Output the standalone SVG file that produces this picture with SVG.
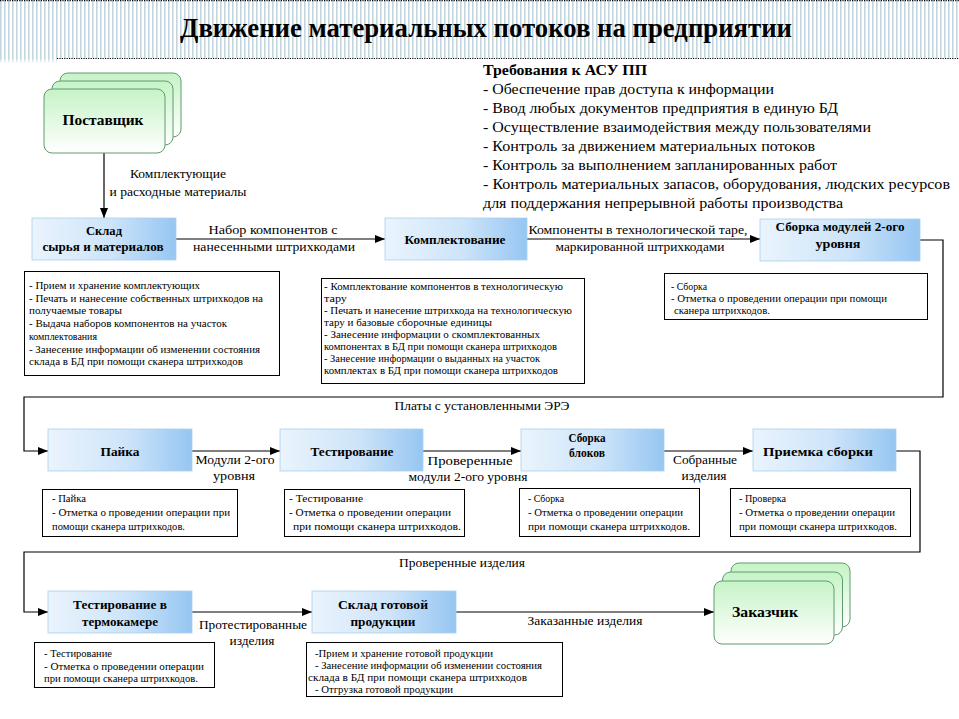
<svg xmlns="http://www.w3.org/2000/svg" width="959" height="719" viewBox="0 0 959 719" font-family="Liberation Serif, DejaVu Serif, serif">
<defs>
  <pattern id="stripes" width="4" height="10" patternUnits="userSpaceOnUse">
    <rect x="0" y="0" width="1.6" height="10" fill="#c3d5de"/>
  </pattern>
  <linearGradient id="blue" x1="0" y1="0" x2="1" y2="0">
    <stop offset="0" stop-color="#eaf4fd"/>
    <stop offset="0.55" stop-color="#cde4f9"/>
    <stop offset="1" stop-color="#96c6f2"/>
  </linearGradient>
  <linearGradient id="green" x1="0" y1="0" x2="0" y2="1">
    <stop offset="0" stop-color="#c6f3c6"/>
    <stop offset="1" stop-color="#ffffff"/>
  </linearGradient>
  <linearGradient id="fade" x1="0" y1="0" x2="0" y2="1">
    <stop offset="0" stop-color="#fff" stop-opacity="0"/>
    <stop offset="1" stop-color="#fff" stop-opacity="1"/>
  </linearGradient>
  <marker id="arr" markerWidth="10" markerHeight="8" refX="10" refY="4" orient="auto" markerUnits="userSpaceOnUse">
    <path d="M0,0 L10,4 L0,8 z" fill="#000"/>
  </marker>
</defs>
<style>
  .title { font-size: 27px; font-weight: bold; text-anchor: middle; }
  .req { font-size: 15px; }
  .reqh { font-size: 15px; font-weight: bold; }
  .nt { font-size: 13px; font-weight: bold; text-anchor: middle; }
  .big { font-size: 15px; font-weight: bold; }
  .lb { font-size: 12.5px; text-anchor: middle; }
  .ds { font-size: 10.5px; }
  .box { fill: url(#blue); stroke: #a9cfee; stroke-width: 0.8; }
  .desc { fill: #fff; stroke: #000; stroke-width: 1; }
  .stack { fill: url(#green); stroke: #5e9c6e; stroke-width: 1; }
  .conn { fill: none; stroke: #000; stroke-width: 1.2; marker-end: url(#arr); }
  .dot { stroke: #000; stroke-width: 1.2; stroke-dasharray: 1.2 1.2; fill: none; }
</style>

<rect x="0" y="0" width="959" height="719" fill="#fff"/>

<g id="header">
  <rect x="0" y="0" width="959" height="58" fill="url(#stripes)"/>
  <rect x="0" y="58" width="57" height="5" fill="url(#stripes)"/>
  <rect x="0" y="58" width="57" height="6" fill="url(#fade)"/>
  <line class="dot" x1="0" y1="0.6" x2="959" y2="0.6"/>
  <line class="dot" x1="57" y1="58.5" x2="959" y2="58.5"/>
  <text class="title" x="486" y="37" textLength="612" lengthAdjust="spacingAndGlyphs">Движение материальных потоков на предприятии</text>
</g>

<g id="requirements">
  <text class="reqh" x="483" y="75" textLength="164" lengthAdjust="spacingAndGlyphs">Требования к АСУ ПП</text>
  <text class="req" x="483" y="94" textLength="291" lengthAdjust="spacingAndGlyphs">- Обеспечение прав доступа к информации</text>
  <text class="req" x="483" y="113" textLength="355" lengthAdjust="spacingAndGlyphs">- Ввод любых документов предприятия в единую БД</text>
  <text class="req" x="483" y="132" textLength="388" lengthAdjust="spacingAndGlyphs">- Осуществление взаимодействия между пользователями</text>
  <text class="req" x="483" y="151" textLength="332" lengthAdjust="spacingAndGlyphs">- Контроль за движением материальных потоков</text>
  <text class="req" x="483" y="170" textLength="354" lengthAdjust="spacingAndGlyphs">- Контроль за выполнением запланированных работ</text>
  <text class="req" x="483" y="189" textLength="467" lengthAdjust="spacingAndGlyphs">- Контроль материальных запасов, оборудования, людских ресурсов</text>
  <text class="req" x="483" y="208" textLength="360" lengthAdjust="spacingAndGlyphs">для поддержания непрерывной работы производства</text>
</g>

<g id="connectors">
  <path class="conn" d="M104,153 V218"/>
  <path class="conn" d="M176,239 H385"/>
  <path class="conn" d="M527,239 H760"/>
  <path class="conn" d="M920,240 H943 V397 H24 V451 H48"/>
  <path class="conn" d="M192,451 H280"/>
  <path class="conn" d="M423,451 H521"/>
  <path class="conn" d="M664,451 H753"/>
  <path class="conn" d="M896,451 H920 V552 H24 V612 H48"/>
  <path class="conn" d="M192,612 H312"/>
  <path class="conn" d="M456,612 H714"/>
  <text class="lb" x="178" y="178" textLength="96" lengthAdjust="spacingAndGlyphs">Комплектующие</text>
  <text class="lb" x="178" y="196" textLength="137" lengthAdjust="spacingAndGlyphs">и расходные материалы</text>
  <text class="lb" x="273" y="234" textLength="129" lengthAdjust="spacingAndGlyphs">Набор компонентов с</text>
  <text class="lb" x="274" y="251" textLength="162" lengthAdjust="spacingAndGlyphs">нанесенными штрихкодами</text>
  <text class="lb" x="638" y="234" textLength="219" lengthAdjust="spacingAndGlyphs">Компоненты в технологической таре,</text>
  <text class="lb" x="640" y="251" textLength="169" lengthAdjust="spacingAndGlyphs">маркированной штрихкодами</text>
  <text class="lb" x="482" y="410" textLength="175" lengthAdjust="spacingAndGlyphs">Платы с установленными ЭРЭ</text>
  <text class="lb" x="235" y="464" textLength="79" lengthAdjust="spacingAndGlyphs">Модули 2-ого</text>
  <text class="lb" x="234" y="480" textLength="42" lengthAdjust="spacingAndGlyphs">уровня</text>
  <text class="lb" x="470" y="465" textLength="85" lengthAdjust="spacingAndGlyphs">Проверенные</text>
  <text class="lb" x="468" y="481" textLength="119" lengthAdjust="spacingAndGlyphs">модули 2-ого уровня</text>
  <text class="lb" x="705" y="464" textLength="64" lengthAdjust="spacingAndGlyphs">Собранные</text>
  <text class="lb" x="704" y="480" textLength="45" lengthAdjust="spacingAndGlyphs">изделия</text>
  <text class="lb" x="462" y="567" textLength="126" lengthAdjust="spacingAndGlyphs">Проверенные изделия</text>
  <text class="lb" x="253" y="629" textLength="108" lengthAdjust="spacingAndGlyphs">Протестированные</text>
  <text class="lb" x="252" y="645" textLength="45" lengthAdjust="spacingAndGlyphs">изделия</text>
  <text class="lb" x="585" y="625" textLength="115" lengthAdjust="spacingAndGlyphs">Заказанные изделия</text>
</g>

<g id="supplier">
  <rect class="stack" x="60" y="73" width="121" height="64" rx="8"/>
  <rect class="stack" x="52" y="81" width="121" height="64" rx="8"/>
  <rect class="stack" x="44" y="89" width="121" height="64" rx="8"/>
  <text class="nt" x="103" y="125" style="font-size:14px" textLength="81" lengthAdjust="spacingAndGlyphs">Поставщик</text>
</g>

<g id="sklad">
  <rect class="box" x="32" y="218" width="144" height="42"/>
  <text class="nt" x="104" y="235" textLength="36" lengthAdjust="spacingAndGlyphs">Склад</text>
  <text class="nt" x="103" y="251" textLength="121" lengthAdjust="spacingAndGlyphs">сырья и материалов</text>
</g>
<g id="sklad-desc">
  <rect class="desc" x="24.5" y="271.5" width="255" height="104"/>
  <text class="ds" x="29" y="289" textLength="171" lengthAdjust="spacingAndGlyphs">- Прием и хранение комплектующих</text>
  <text class="ds" x="29" y="301.7" textLength="234" lengthAdjust="spacingAndGlyphs">- Печать и нанесение собственных штрихкодов на</text>
  <text class="ds" x="29" y="314.4" textLength="93" lengthAdjust="spacingAndGlyphs">получаемые товары</text>
  <text class="ds" x="29" y="327.1" textLength="198" lengthAdjust="spacingAndGlyphs">- Выдача наборов компонентов на участок</text>
  <text class="ds" x="29" y="339.8" textLength="68" lengthAdjust="spacingAndGlyphs">комплектования</text>
  <text class="ds" x="29" y="352.5" textLength="231" lengthAdjust="spacingAndGlyphs">- Занесение информации об изменении состояния</text>
  <text class="ds" x="29" y="365.2" textLength="214" lengthAdjust="spacingAndGlyphs">склада в БД при помощи сканера штрихкодов</text>
</g>

<g id="komplekt">
  <rect class="box" x="385" y="218" width="142" height="42"/>
  <text class="nt" x="455" y="244" textLength="101" lengthAdjust="spacingAndGlyphs">Комплектование</text>
</g>
<g id="komplekt-desc">
  <rect class="desc" x="321.5" y="278.5" width="263" height="105"/>
  <text class="ds" x="324" y="290" textLength="239" lengthAdjust="spacingAndGlyphs">- Комплектование компонентов в технологическую</text>
  <text class="ds" x="324" y="302" textLength="23" lengthAdjust="spacingAndGlyphs">тару</text>
  <text class="ds" x="324" y="314" textLength="248" lengthAdjust="spacingAndGlyphs">- Печать и нанесение штрихкода на технологическую</text>
  <text class="ds" x="324" y="326" textLength="168" lengthAdjust="spacingAndGlyphs">тару и базовые сборочные единицы</text>
  <text class="ds" x="324" y="338" textLength="216" lengthAdjust="spacingAndGlyphs">- Занесение информации о скомплектованных</text>
  <text class="ds" x="324" y="350" textLength="233" lengthAdjust="spacingAndGlyphs">компонентах в БД при помощи сканера штрихкодов</text>
  <text class="ds" x="324" y="362" textLength="216" lengthAdjust="spacingAndGlyphs">- Занесение информации о выданных на участок</text>
  <text class="ds" x="324" y="374" textLength="234" lengthAdjust="spacingAndGlyphs">комплектах в БД при помощи сканера штрихкодов</text>
</g>

<g id="sborka-mod">
  <rect class="box" x="760" y="219" width="160" height="42"/>
  <text class="nt" x="840" y="231" textLength="129" lengthAdjust="spacingAndGlyphs">Сборка модулей 2-ого</text>
  <text class="nt" x="838" y="248" textLength="45" lengthAdjust="spacingAndGlyphs">уровня</text>
</g>
<g id="sborka-mod-desc">
  <rect class="desc" x="664.5" y="273.5" width="263" height="46"/>
  <text class="ds" x="671" y="290" textLength="36" lengthAdjust="spacingAndGlyphs">- Сборка</text>
  <text class="ds" x="671" y="302" textLength="216" lengthAdjust="spacingAndGlyphs">- Отметка  о проведении операции при помощи</text>
  <text class="ds" x="674" y="314" textLength="96" lengthAdjust="spacingAndGlyphs">сканера штрихкодов.</text>
</g>

<g id="pajka">
  <rect class="box" x="48" y="429" width="144" height="42"/>
  <text class="nt" x="120" y="456" textLength="39" lengthAdjust="spacingAndGlyphs">Пайка</text>
</g>
<g id="pajka-desc">
  <rect class="desc" x="42.5" y="489.5" width="195" height="47"/>
  <text class="ds" x="52" y="502" textLength="34" lengthAdjust="spacingAndGlyphs">- Пайка</text>
  <text class="ds" x="52" y="516" textLength="178" lengthAdjust="spacingAndGlyphs">- Отметка  о проведении операции при</text>
  <text class="ds" x="52" y="530" textLength="133" lengthAdjust="spacingAndGlyphs">помощи сканера штрихкодов.</text>
</g>

<g id="test">
  <rect class="box" x="280" y="429" width="143" height="42"/>
  <text class="nt" x="352" y="456" textLength="83" lengthAdjust="spacingAndGlyphs">Тестирование</text>
</g>
<g id="test-desc">
  <rect class="desc" x="284.5" y="489.5" width="180" height="47"/>
  <text class="ds" x="289" y="502" textLength="74" lengthAdjust="spacingAndGlyphs">- Тестирование</text>
  <text class="ds" x="289" y="516" textLength="162" lengthAdjust="spacingAndGlyphs">- Отметка  о проведении операции</text>
  <text class="ds" x="293" y="530" textLength="168" lengthAdjust="spacingAndGlyphs">при помощи сканера штрихкодов.</text>
</g>

<g id="sborka-blok">
  <rect class="box" x="521" y="429" width="143" height="42"/>
  <text class="nt" x="587" y="442" textLength="37" lengthAdjust="spacingAndGlyphs">Сборка</text>
  <text class="nt" x="587" y="457" textLength="36" lengthAdjust="spacingAndGlyphs">блоков</text>
</g>
<g id="sborka-blok-desc">
  <rect class="desc" x="519.5" y="488.5" width="180" height="48"/>
  <text class="ds" x="528" y="502" textLength="36" lengthAdjust="spacingAndGlyphs">- Сборка</text>
  <text class="ds" x="528" y="516" textLength="155" lengthAdjust="spacingAndGlyphs">- Отметка  о проведении операции</text>
  <text class="ds" x="528" y="530" textLength="162" lengthAdjust="spacingAndGlyphs">при помощи сканера штрихкодов.</text>
</g>

<g id="priemka">
  <rect class="box" x="753" y="429" width="143" height="42"/>
  <text class="nt" x="818" y="456" textLength="110" lengthAdjust="spacingAndGlyphs">Приемка сборки</text>
</g>
<g id="priemka-desc">
  <rect class="desc" x="730.5" y="488.5" width="180" height="48"/>
  <text class="ds" x="739" y="502" textLength="47" lengthAdjust="spacingAndGlyphs">- Проверка</text>
  <text class="ds" x="739" y="516" textLength="156" lengthAdjust="spacingAndGlyphs">- Отметка  о проведении операции</text>
  <text class="ds" x="739" y="530" textLength="158" lengthAdjust="spacingAndGlyphs">при помощи сканера штрихкодов.</text>
</g>

<g id="termo">
  <rect class="box" x="48" y="591" width="144" height="42"/>
  <text class="nt" x="120" y="609" textLength="94" lengthAdjust="spacingAndGlyphs">Тестирование в</text>
  <text class="nt" x="120" y="626" textLength="76" lengthAdjust="spacingAndGlyphs">термокамере</text>
</g>
<g id="termo-desc">
  <rect class="desc" x="34.5" y="642.5" width="180" height="45"/>
  <text class="ds" x="44" y="657" textLength="68" lengthAdjust="spacingAndGlyphs">- Тестирование</text>
  <text class="ds" x="44" y="670" textLength="160" lengthAdjust="spacingAndGlyphs">- Отметка  о проведении операции</text>
  <text class="ds" x="44" y="682" textLength="154" lengthAdjust="spacingAndGlyphs">при помощи сканера штрихкодов.</text>
</g>

<g id="sklad-gp">
  <rect class="box" x="312" y="591" width="144" height="42"/>
  <text class="nt" x="383" y="609" textLength="90" lengthAdjust="spacingAndGlyphs">Склад готовой</text>
  <text class="nt" x="383" y="626" textLength="65" lengthAdjust="spacingAndGlyphs">продукции</text>
</g>
<g id="sklad-gp-desc">
  <rect class="desc" x="306.5" y="642.5" width="256" height="54"/>
  <text class="ds" x="315" y="657" textLength="178" lengthAdjust="spacingAndGlyphs">-Прием и хранение готовой продукции</text>
  <text class="ds" x="315" y="669" textLength="227" lengthAdjust="spacingAndGlyphs">- Занесение информации об изменении состояния</text>
  <text class="ds" x="308" y="681" textLength="219" lengthAdjust="spacingAndGlyphs">склада в БД при помощи сканера штрихкодов</text>
  <text class="ds" x="315" y="693" textLength="138" lengthAdjust="spacingAndGlyphs">- Отгрузка готовой продукции</text>
</g>

<g id="customer">
  <rect class="stack" x="731" y="563" width="119" height="64" rx="8"/>
  <rect class="stack" x="722.5" y="572" width="120" height="63" rx="8"/>
  <rect class="stack" x="714" y="581" width="120" height="63" rx="8"/>
  <text class="big" x="732" y="617" textLength="66" lengthAdjust="spacingAndGlyphs">Заказчик</text>
</g>
</svg>
